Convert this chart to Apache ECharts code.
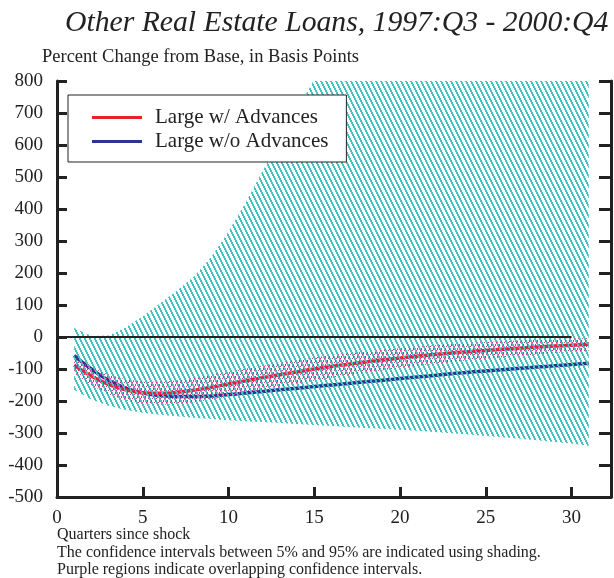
<!DOCTYPE html>
<html>
<head>
<meta charset="utf-8">
<script src="https://cdn.jsdelivr.net/npm/echarts@6/dist/echarts.min.js"></script>
<style>
  html, body { margin: 0; padding: 0; background: #fff; }
  #chart { width: 614px; height: 578px; }
</style>
</head>
<body>
<div id="chart"></div>
<script>
// Quarters since the shock
const quarters = [1, 2, 3, 4, 5, 6, 7, 8, 9, 10, 11, 12, 13, 14, 15, 16,
  17, 18, 19, 20, 21, 22, 23, 24, 25, 26, 27, 28, 29, 30, 31];

// Point estimates, basis points from base
const largeWithAdv = [-88, -122, -148, -165, -174, -176, -173, -166, -157, -147,
  -137, -127, -118, -109, -100, -92, -85, -78, -72, -66, -60, -55, -50, -46,
  -42, -38, -35, -31, -28, -26, -23];
const largeWithoutAdv = [-58, -100, -135, -160, -175, -183, -186, -186, -184, -180,
  -175, -170, -165, -160, -155, -150, -145, -140, -135, -130, -125, -120, -115,
  -110, -106, -102, -98, -94, -90, -86, -82];

// 5%-95% confidence bounds, Large w/ Advances
const withAdvUpper = [-63, -94, -117, -132, -139, -140, -136, -128, -119, -109,
  -99, -90, -81, -73, -64, -57, -51, -45, -40, -35, -30, -26, -22, -19, -16,
  -13, -11, -8, -6, -5, -3];
const withAdvLower = [-113, -150, -179, -198, -209, -212, -210, -204, -195, -185,
  -175, -164, -155, -145, -136, -127, -119, -111, -104, -97, -90, -84, -78,
  -73, -68, -63, -59, -54, -50, -47, -43];

// 5%-95% confidence bounds, Large w/o Advances
const withoutAdvUpper = [28, 3, 5, 30, 65, 105, 145, 190, 250, 330, 420, 520,
  615, 710, 805, 900, 990, 1080, 1170, 1260, 1350, 1430, 1510, 1590, 1670,
  1750, 1820, 1890, 1960, 2030, 2100];
const withoutAdvLower = [-165, -195, -215, -228, -237, -243, -248, -252, -256,
  -260, -263, -266, -269, -272, -275, -278, -281, -284, -287, -290, -293, -297,
  -301, -305, -309, -313, -318, -323, -328, -333, -340];

// Zero reference line
const baseLine = [[0, 0], [30, 0]];

// Tick labels
const yTicks = [-500, -400, -300, -200, -100, 0, 100, 200, 300, 400, 500, 600, 700, 800];
const xTicks = [0, 5, 10, 15, 20, 25, 30];

const SERIF = '"Liberation Serif", "Times New Roman", serif';
const INK = '#222';

// Hatch fills built on small canvases
function hatchTile(w, h, color, pixelsFor) {
  const c = document.createElement('canvas');
  c.width = w; c.height = h;
  const ctx = c.getContext('2d');
  ctx.fillStyle = color;
  for (let y = 0; y < h; y++) {
    pixelsFor(y).forEach(x => ctx.fillRect(((x % w) + w) % w, y, 1, 1));
  }
  return c;
}
// "\" stripes, two pixels wide
const cyanTile = hatchTile(5, 10, '#42c2c0', y => {
  const x0 = Math.floor(y / 2);
  return [x0, x0 + 1];
});
// "/" dashed strokes
const magentaTile = hatchTile(4, 8, '#c8369c', y => {
  if (y % 4 === 3) return [];
  return [3 - Math.floor(y / 2)];
});

const pairs = arr => quarters.map((q, i) => [q, arr[i]]);

// Band rows: [quarter, lower, upper]
const bandRows = (lo, hi) => quarters.map((q, i) => [q, lo[i], hi[i]]);

// One closed polygon per band, projected through the cartesian axes
function bandSeries(name, lo, hi, tile) {
  const rows = bandRows(lo, hi);
  return {
    name, type: 'custom', clip: true, z: 3, silent: true,
    data: rows,
    encode: { x: 0, y: [1, 2] },
    renderItem(params, api) {
      if (params.dataIndex !== 0) return null;
      const top = rows.map(r => api.coord([r[0], r[2]]));
      const bottom = rows.slice().reverse().map(r => api.coord([r[0], r[1]]));
      return {
        type: 'polygon',
        shape: { points: top.concat(bottom) },
        style: { fill: { image: tile, repeat: 'repeat' }, stroke: null }
      };
    }
  };
}

const chart = echarts.init(document.getElementById('chart'));
chart.setOption({
  animation: false,
  backgroundColor: '#fff',
  textStyle: { fontFamily: SERIF, color: INK },
  grid: { left: 57, right: 3, top: 81, bottom: 81, containLabel: false },
  graphic: [
    { type: 'text', left: 65, top: 8,
      style: { text: 'Other Real Estate Loans, 1997:Q3 - 2000:Q4', font: 'italic 29.7px ' + SERIF, fill: INK } },
    { type: 'text', left: 42, top: 48,
      style: { text: 'Percent Change from Base, in Basis Points', font: '18.5px ' + SERIF, fill: INK } },
    { type: 'text', left: 57, top: 527,
      style: { text: 'Quarters since shock', font: '16px ' + SERIF, fill: INK } },
    { type: 'text', left: 57, top: 545,
      style: { text: 'The confidence intervals between 5% and 95% are indicated using shading.', font: '16px ' + SERIF, fill: INK } },
    { type: 'text', left: 57, top: 562,
      style: { text: 'Purple regions indicate overlapping confidence intervals.', font: '16px ' + SERIF, fill: INK } }
  ],
  legend: {
    left: 68, top: 95,
    orient: 'vertical',
    data: ['Large w/ Advances', 'Large w/o Advances'],
    icon: 'rect',
    itemWidth: 50, itemHeight: 3, itemGap: 3,
    padding: [12, 18, 10, 24],
    borderColor: INK, borderWidth: 1,
    backgroundColor: '#fff',
    textStyle: { fontFamily: SERIF, fontSize: 21, color: INK, padding: [0, 0, 0, 8] }
  },
  xAxis: {
    type: 'value', min: 0, max: 32.3, interval: 5,
    axisLine: { show: true, onZero: false, lineStyle: { color: INK, width: 3 } },
    axisTick: { show: true, inside: true, length: 10, lineStyle: { color: INK, width: 3 } },
    axisLabel: {
      fontFamily: SERIF, fontSize: 19, color: INK, margin: 12, showMaxLabel: false,
      formatter: v => xTicks.includes(v) ? String(v) : ''
    },
    splitLine: { show: false }
  },
  yAxis: [
    {
      type: 'value', min: -500, max: 800, interval: 100, position: 'left',
      axisLine: { show: true, lineStyle: { color: INK, width: 3 } },
      axisTick: { show: true, inside: true, length: 10, lineStyle: { color: INK, width: 3 } },
      axisLabel: {
        fontFamily: SERIF, fontSize: 19, color: INK, margin: 14,
        formatter: v => yTicks.includes(v) ? String(v) : ''
      },
      splitLine: { show: false }
    },
    {
      type: 'value', min: -500, max: 800, interval: 100, position: 'right',
      axisLine: { show: true, lineStyle: { color: INK, width: 3 } },
      axisTick: { show: true, inside: true, length: 12, lineStyle: { color: INK, width: 3 } },
      axisLabel: { show: false },
      splitLine: { show: false }
    }
  ],
  series: [
    {
      name: 'Large w/o Advances', type: 'line', data: pairs(largeWithoutAdv),
      symbol: 'none', smooth: true, color: '#2b3591',
      lineStyle: { color: '#2b3591', width: 3.5 }, z: 2
    },
    {
      name: 'Large w/ Advances', type: 'line', data: pairs(largeWithAdv),
      symbol: 'none', smooth: true, color: '#e8202c',
      lineStyle: { color: '#e8202c', width: 3.5 }, z: 2
    },
    bandSeries('woBand', withoutAdvLower, withoutAdvUpper, cyanTile),
    bandSeries('wBand', withAdvLower, withAdvUpper, magentaTile),
    {
      name: 'zero', type: 'line', data: baseLine, symbol: 'none',
      lineStyle: { color: INK, width: 2 }, z: 4
    }
  ]
});
</script>
</body>
</html>
